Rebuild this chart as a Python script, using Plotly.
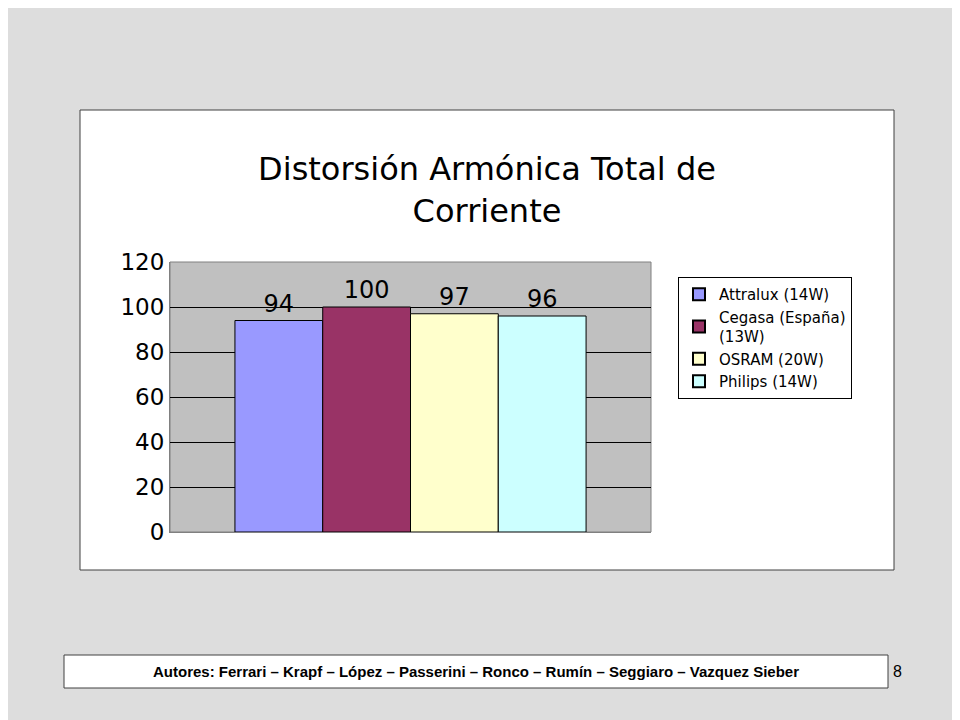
import plotly.graph_objects as go

series = ["Attralux (14W)", "Cegasa (España)<br>(13W)", "OSRAM (20W)", "Philips (14W)"]
values = [94, 100, 97, 96]
colors = ["#9999FF", "#993366", "#FFFFCC", "#CCFFFF"]
category = ["THD"]

fig = go.Figure()
for s, v, c in zip(series, values, colors):
    fig.add_trace(go.Bar(x=category, y=[v], name=s, marker=dict(color=c, line=dict(color="black", width=1)),
                         text=[str(v)], textposition="outside",
                         textfont=dict(size=24, color="black", family="DejaVu Sans"),
                         cliponaxis=False))

OFF = 8
W, H = 960, 720
L, R, T, B = 170 - OFF, 651 - OFF, 262 - OFF, 532 - OFF
def px(x): return (x - OFF - L) / (R - L)
def py(y): return (B - (y - OFF)) / (B - T)

fig.update_layout(
    width=W, height=H, paper_bgcolor="#DDDDDD", plot_bgcolor="#C0C0C0",
    margin=dict(l=L, r=W - R, t=T, b=H - B),
    barmode="group", bargap=0.27, bargroupgap=0,
    font=dict(family="DejaVu Sans, Verdana, sans-serif", color="black"),
    title=dict(text="Distorsión Armónica Total de<br>Corriente", x=px(487), xref="paper", xanchor="center",
               y=1 - (180 - OFF) / H, yanchor="middle", font=dict(size=32)),
    xaxis=dict(showticklabels=False, showline=True, linecolor="gray"),
    yaxis=dict(range=[0, 120], dtick=20, showgrid=True, gridcolor="black", gridwidth=1,
               tickfont=dict(size=23), ticks="", zeroline=False, showline=True, linecolor="gray"),
    legend=dict(x=px(678), y=py(277), xanchor="left", yanchor="top", bgcolor="white",
                bordercolor="black", borderwidth=1, font=dict(size=15), tracegroupgap=22,
                traceorder="normal", itemsizing="constant"),
    showlegend=True,
    shapes=[
        dict(type="rect", xref="paper", yref="paper", x0=px(80), x1=px(894), y0=py(570), y1=py(110),
             fillcolor="white", line=dict(color="#404040", width=1), layer="below"),
        dict(type="rect", xref="paper", yref="paper", x0=0, x1=1, y0=0, y1=1,
             fillcolor="#C0C0C0", line=dict(color="gray", width=1), layer="below"),
        dict(type="rect", xref="paper", yref="paper", x0=px(64), x1=px(888), y0=py(688), y1=py(655),
             fillcolor="white", line=dict(color="#404040", width=1), layer="below"),
    ],
    annotations=[
        dict(text="<b>Autores: Ferrari – Krapf – López – Passerini – Ronco – Rumín – Seggiaro – Vazquez Sieber</b>",
             xref="paper", yref="paper", x=px(476), y=py(671.5), xanchor="center", yanchor="middle",
             showarrow=False, font=dict(size=15, family="Arial, Liberation Sans")),
        dict(text="8", xref="paper", yref="paper", x=px(897), y=py(671.5), xanchor="center", yanchor="middle",
             showarrow=False, font=dict(size=16, family="Arial, Liberation Sans")),
    ],
)
fig.write_html("out.html")
